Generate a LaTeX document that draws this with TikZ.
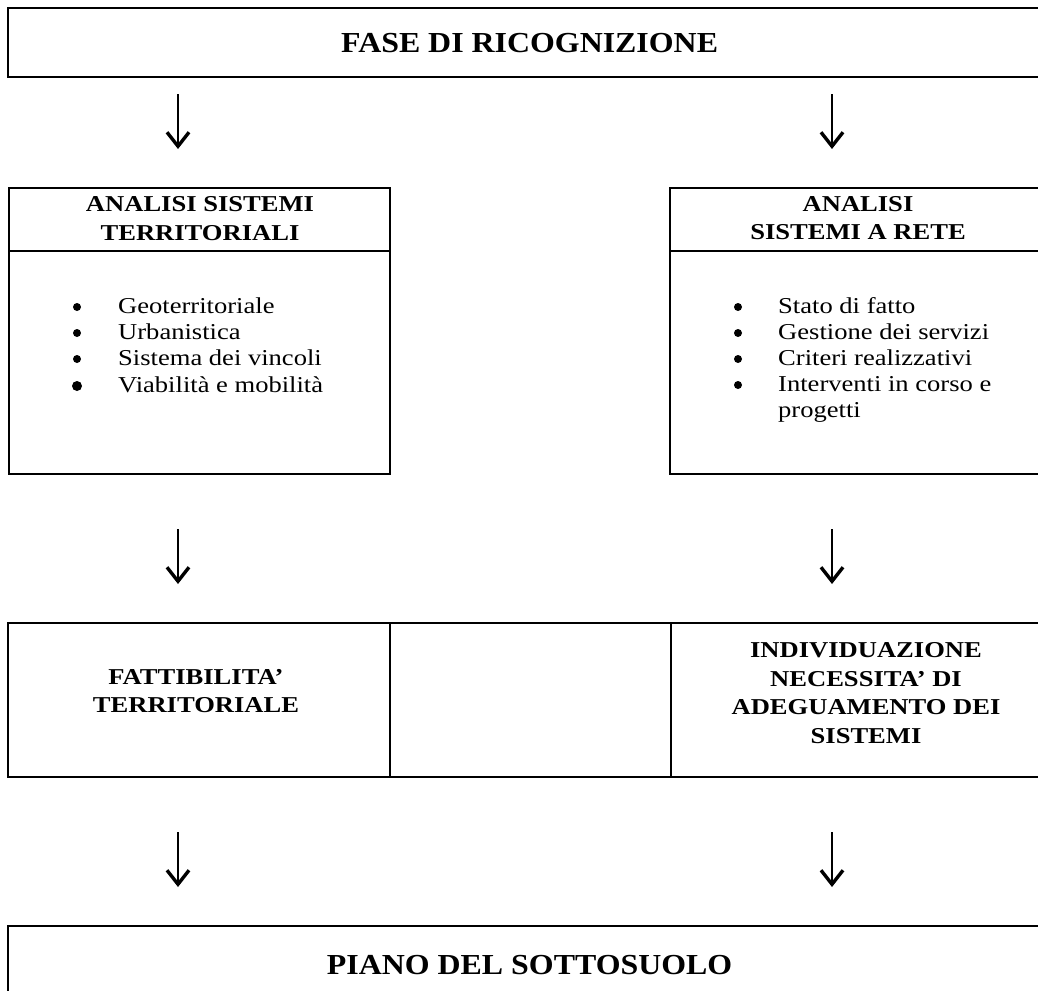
\documentclass[tikz,border=0pt]{standalone}
\usepackage{fontspec}
\setmainfont{Liberation Serif}
\newfontfamily\bodyfont[FakeStretch=1.17]{Liberation Serif}
\newfontfamily\titlefont[FakeStretch=1.1]{Liberation Serif}
\usetikzlibrary{arrows.meta}
\begin{document}
\begin{tikzpicture}[x=1pt,y=-1pt,
  frame/.style={draw=black, line width=2.2pt, inner sep=0pt, anchor=north west},
  titletext/.style={font=\titlefont\bfseries\fontsize{29}{34}\selectfont},
  headtext/.style={font=\bodyfont\bfseries\fontsize{22.7}{#1}\selectfont, align=center, inner sep=0pt},
  itemtext/.style={font=\bodyfont\fontsize{22.7}{27}\selectfont, anchor=base west, inner sep=0pt},
  bul/.style={circle, fill=black, inner sep=0pt, minimum size=#1},
  bul/.default=8pt,
  flow/.style={line width=2.6pt, -{Straight Barb[length=14pt,width=22pt,line width=3.4pt]}}
]
\useasboundingbox (0,0) rectangle (1038,990);
\clip (0,0) rectangle (1038,990);

% top box
\node[frame, minimum width=1043pt, minimum height=69pt, titletext] (top) at (7,7) {FASE DI RICOGNIZIONE};

% arrows row 1
\coordinate (a1s) at (178,94); \coordinate (a1e) at (178,149);
\coordinate (b1s) at (832,94); \coordinate (b1e) at (832,149);
\draw[flow] (a1s) -- (a1e);
\draw[flow] (b1s) -- (b1e);

% left analysis box
\node[frame, minimum width=381pt, minimum height=63pt] (lhead) at (8,187) {};
\node[frame, minimum width=381pt, minimum height=223pt] (lbody) at (8,250) {};
\node[headtext=29pt] (lheadt) at (200,218.5) {ANALISI SISTEMI\\TERRITORIALI};
\node[bul] (lb1) at (77,307) {}; \node[itemtext] (li1) at (118,313) {Geoterritoriale};
\node[bul] (lb2) at (77,333) {}; \node[itemtext] (li2) at (118,339) {Urbanistica};
\node[bul] (lb3) at (77,359) {}; \node[itemtext] (li3) at (118,365) {Sistema dei vincoli};
\node[bul=10pt] (lb4) at (77,386) {}; \node[itemtext] (li4) at (118,392) {Viabilità e mobilità};

% right analysis box
\node[frame, minimum width=381pt, minimum height=63pt] (rhead) at (669,187) {};
\node[frame, minimum width=381pt, minimum height=223pt] (rbody) at (669,250) {};
\node[headtext=28pt] (rheadt) at (858,218) {ANALISI\\SISTEMI A RETE};
\node[bul] (rb1) at (738,307) {}; \node[itemtext] (ri1) at (778,313) {Stato di fatto};
\node[bul] (rb2) at (738,333) {}; \node[itemtext] (ri2) at (778,339) {Gestione dei servizi};
\node[bul] (rb3) at (738,359) {}; \node[itemtext] (ri3) at (778,365) {Criteri realizzativi};
\node[bul] (rb4) at (738,385) {}; \node[itemtext] (ri4) at (778,391) {Interventi in corso e};
\node[itemtext] (ri5) at (778,417) {progetti};

% arrows row 2
\coordinate (a2s) at (178,529); \coordinate (a2e) at (178,584);
\coordinate (b2s) at (832,529); \coordinate (b2e) at (832,584);
\draw[flow] (a2s) -- (a2e);
\draw[flow] (b2s) -- (b2e);

% middle row
\node[frame, minimum width=382pt, minimum height=154pt] (mleft) at (7,622) {};
\node[frame, minimum width=281pt, minimum height=154pt] (mmid) at (389,622) {};
\node[frame, minimum width=380pt, minimum height=154pt] (mright) at (670,622) {};
\node[headtext=28pt] (mleftt) at (196,691.5) {FATTIBILITA’\\TERRITORIALE};
\node[headtext=28.5pt] (mrightt) at (866,693) {INDIVIDUAZIONE\\NECESSITA’ DI\\ADEGUAMENTO DEI\\SISTEMI};

% arrows row 3
\coordinate (a3s) at (178,832); \coordinate (a3e) at (178,887);
\coordinate (b3s) at (832,832); \coordinate (b3e) at (832,887);
\draw[flow] (a3s) -- (a3e);
\draw[flow] (b3s) -- (b3e);

% bottom box
\node[frame, minimum width=1043pt, minimum height=78pt, titletext] (bottom) at (7,925) {PIANO DEL SOTTOSUOLO};
\end{tikzpicture}
\end{document}
